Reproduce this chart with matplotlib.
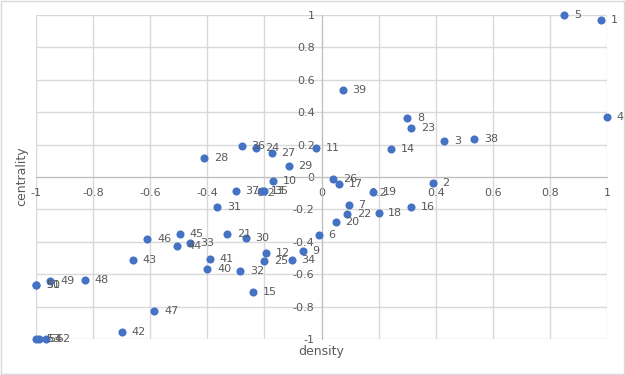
import matplotlib
matplotlib.use("Agg")
import matplotlib.pyplot as plt
from matplotlib.patches import Rectangle

# point labels and coordinates
labels = ["1", "2", "3", "4", "5", "6", "7", "8", "9", "10",
          "11", "12", "13", "14", "15", "16", "17", "18", "19", "20",
          "21", "22", "23", "24", "25", "26", "27", "28", "29", "30",
          "31", "32", "33", "34", "35", "36", "37", "38", "39", "40",
          "41", "42", "43", "44", "45", "46", "47", "48", "49", "50",
          "51", "53", "54", "52"]
density = [0.98, 0.39, 0.43, 1.0, 0.85, -0.01, 0.095, 0.30, -0.065, -0.17,
           -0.02, -0.195, -0.21, 0.245, -0.24, 0.315, 0.06, 0.20, 0.18, 0.05,
           -0.33, 0.09, 0.315, -0.23, -0.20, 0.04, -0.175, -0.41, -0.115, -0.265,
           -0.365, -0.285, -0.46, -0.105, -0.20, -0.28, -0.30, 0.535, 0.075, -0.40,
           -0.39, -0.70, -0.66, -0.505, -0.495, -0.61, -0.585, -0.83, -0.95, -1.0,
           -1.0, -1.0, -0.99, -0.965]
centrality = [0.97, -0.04, 0.22, 0.37, 1.0, -0.36, -0.17, 0.365, -0.455, -0.025,
              0.18, -0.47, -0.085, 0.17, -0.71, -0.185, -0.045, -0.225, -0.095, -0.28,
              -0.35, -0.23, 0.305, 0.18, -0.52, -0.01, 0.15, 0.115, 0.07, -0.375,
              -0.185, -0.58, -0.405, -0.515, -0.085, 0.19, -0.085, 0.235, 0.535, -0.565,
              -0.505, -0.955, -0.51, -0.425, -0.35, -0.38, -0.825, -0.635, -0.64, -0.665,
              -0.665, -1.0, -1.0, -1.0]
ticks = [-1, -0.8, -0.6, -0.4, -0.2, 0, 0.2, 0.4, 0.6, 0.8, 1]
tick_labels = ["-1", "-0.8", "-0.6", "-0.4", "-0.2", "0", "0.2", "0.4", "0.6", "0.8", "1"]

blue = "#4472C4"
grey = "#595959"
grid_c = "#D9D9D9"

fig = plt.figure(figsize=(6.25, 3.75), dpi=100)
ax = fig.add_axes([36 / 625, 1 - 339 / 375, 571 / 625, 324 / 375])

# chart area border
fig.patches.append(Rectangle((0.002, 0.003), 0.996, 0.994, transform=fig.transFigure,
                             fill=False, edgecolor=grid_c, linewidth=1))

ax.set_xlim(-1, 1)
ax.set_ylim(-1, 1)
ax.set_xticks(ticks)
ax.set_yticks(ticks)
ax.set_xticklabels(tick_labels)
ax.set_yticklabels(tick_labels)
ax.grid(True, color=grid_c, linewidth=1)
ax.set_axisbelow(True)

for side in ["top", "right"]:
    ax.spines[side].set_visible(False)
ax.spines["bottom"].set_position(("data", 0))
ax.spines["left"].set_position(("data", 0))
ax.spines["bottom"].set_color("#BFBFBF")
ax.spines["left"].set_color("#BFBFBF")
ax.tick_params(length=0, labelsize=8, labelcolor=grey)
ax.tick_params(axis="x", pad=8)
ax.tick_params(axis="y", pad=5)

ax.scatter(density, centrality, s=34, color=blue, zorder=3, clip_on=False, linewidths=0)
for lab, x, y in zip(labels, density, centrality):
    ax.annotate(lab, (x, y), xytext=(7, 0), textcoords="offset points",
                va="center", ha="left", fontsize=8, color=grey, annotation_clip=False)

fig.text(22 / 625, 1 - 176 / 375, "centrality", rotation=90, ha="center", va="center",
         fontsize=9, color=grey)
fig.text(321 / 625, 1 - 352 / 375, "density", ha="center", va="center",
         fontsize=9, color=grey)

fig.savefig("out.png", dpi=100)
